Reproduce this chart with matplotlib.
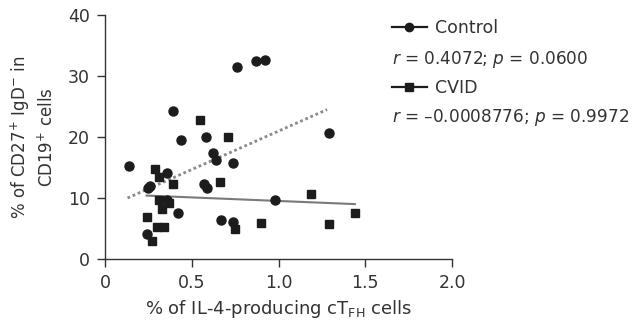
import numpy as np
import matplotlib
matplotlib.use("Agg")
import matplotlib.pyplot as plt

# ---- data ----
ctrl_x = [0.14, 0.39, 0.44, 0.58, 0.62, 0.64, 0.74, 0.76, 0.87, 0.92, 1.29,
          0.36, 0.25, 0.26, 0.57, 0.59, 0.36, 0.42, 0.67, 0.74, 0.24, 0.98]
ctrl_y = [15.3, 24.3, 19.5, 20.0, 17.4, 16.3, 15.8, 31.4, 32.4, 32.7, 20.7,
          14.1, 11.6, 11.9, 12.3, 11.7, 9.6, 7.5, 6.4, 6.1, 4.1, 9.7]

cvid_x = [0.55, 0.71, 0.29, 0.31, 0.39, 0.66, 0.31, 0.37, 0.33, 0.24,
          0.30, 0.34, 0.75, 0.27, 0.90, 1.19, 1.29, 1.44]
cvid_y = [22.8, 20.0, 14.8, 13.4, 12.3, 12.7, 9.7, 9.2, 8.2, 6.9,
          5.2, 5.2, 4.9, 3.0, 5.9, 10.7, 5.7, 7.6]

# regression lines (endpoints)
ctrl_fit_x = [0.13, 1.28]
ctrl_fit_y = [10.0, 24.5]
cvid_fit_x = [0.24, 1.44]
cvid_fit_y = [10.4, 9.0]

ctrl_stats = "$r$ = 0.4072; $p$ = 0.0600"
cvid_stats = "$r$ = \u20130.0008776; $p$ = 0.9972"

# ---- style ----
txt = "#333333"
plt.rcParams["font.family"] = ["DejaVu Sans"]
plt.rcParams["mathtext.fontset"] = "dejavusans"
plt.rcParams["font.size"] = 12
plt.rcParams["text.color"] = txt
plt.rcParams["axes.labelcolor"] = txt
plt.rcParams["xtick.color"] = txt
plt.rcParams["ytick.color"] = txt

fig = plt.figure(figsize=(6.42, 3.31), dpi=100)
ax = fig.add_axes([105 / 642, 1 - 259 / 331, (452 - 105) / 642, (259 - 15) / 331])

ax.plot(ctrl_fit_x, ctrl_fit_y, color="#8a8a8a", lw=2.0, ls=(0, (1, 1)), zorder=2)
ax.plot(cvid_fit_x, cvid_fit_y, color="#7a7a7a", lw=1.5, zorder=2)
ax.plot(ctrl_x, ctrl_y, ls="none", marker="o", ms=6.5, color="#1c1c1c", zorder=3)
ax.plot(cvid_x, cvid_y, ls="none", marker="s", ms=6.2, color="#1c1c1c", zorder=3)

ax.set_xlim(0, 2.0)
ax.set_ylim(0, 40)
ax.set_xticks([0, 0.5, 1.0, 1.5, 2.0])
ax.set_xticklabels(["0", "0.5", "1.0", "1.5", "2.0"])
ax.set_yticks([0, 10, 20, 30, 40])
for s in ["top", "right"]:
    ax.spines[s].set_visible(False)
for s in ["left", "bottom"]:
    ax.spines[s].set_color(txt)
    ax.spines[s].set_linewidth(1.0)
ax.tick_params(direction="out", length=6, width=1.0, labelsize=12.5)
ax.tick_params(axis="y", pad=5)
ax.tick_params(axis="x", pad=5)

ax.set_xlabel("% of IL-4-producing cT$_{\\mathrm{FH}}$ cells", labelpad=4,
              fontsize=13)
ax.set_ylabel("% of CD27$^{+}$ IgD$^{-}$ in\nCD19$^{+}$ cells", labelpad=8,
              linespacing=1.35, fontsize=12)

# legend
h1, = ax.plot([], [], color="#1c1c1c", marker="o", ms=6, lw=1.6)
h2, = ax.plot([], [], color="#1c1c1c", marker="s", ms=6, lw=1.6)
fig.legend([h1, h2], ["Control", "CVID"], loc="upper left",
           bbox_to_anchor=(392 / 642, 1 - 19 / 331), frameon=False,
           borderpad=0, borderaxespad=0, handlelength=2.0, handletextpad=0.45,
           labelspacing=2.4, fontsize=12.5)
fig.text(392 / 642, 1 - 60 / 331, ctrl_stats, va="center", ha="left", fontsize=12.2)
fig.text(392 / 642, 1 - 118 / 331, cvid_stats, va="center", ha="left", fontsize=12.2)

fig.savefig("out.png", dpi=100)
